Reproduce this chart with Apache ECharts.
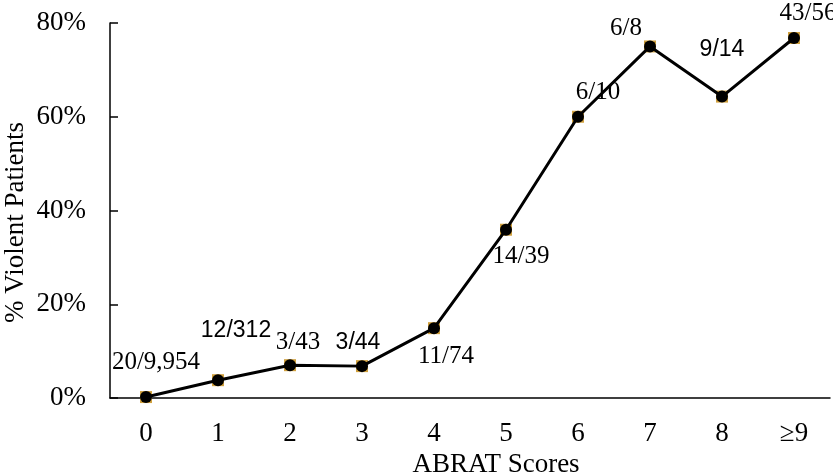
<!DOCTYPE html>
<html>
<head>
<meta charset="utf-8">
<script src="https://cdn.jsdelivr.net/npm/echarts@6/dist/echarts.min.js"></script>
<style>
  html, body { margin: 0; padding: 0; background: #fff; }
  #chart { width: 833px; height: 472px; }
</style>
</head>
<body>
<div id="chart"></div>
<script>
// ABRAT score vs share of violent patients
const categories = ['0', '1', '2', '3', '4', '5', '6', '7', '8', '≥9'];
const violentPct = [0.2, 3.8, 7.0, 6.8, 14.9, 35.9, 60.0, 75.0, 64.3, 76.8];
const pointLabels = ['20/9,954', '12/312', '3/43', '3/44', '11/74', '14/39', '6/10', '6/8', '9/14', '43/56'];
const yTicks = [0, 20, 40, 60, 80];

// label placement relative to each marker (px)
const labelOffsets = [[10, -35], [18, -50], [8, -23], [-4, -23], [12, 28], [15, 27], [20, -24], [-24, -18], [0, -47], [14, -25]];
const sansLabels = [1, 3, 8];

const serif = '"Liberation Serif", "DejaVu Serif", serif';
const sans = '"Liberation Sans", "Noto Sans", sans-serif';

const chart = echarts.init(document.getElementById('chart'));

const lineData = violentPct.map((v, i) => ({
    value: v,
    label: {
        show: true,
        position: 'inside',
        offset: labelOffsets[i],
        formatter: pointLabels[i],
        color: '#000',
        fontFamily: sansLabels.includes(i) ? sans : serif,
        fontSize: sansLabels.includes(i) ? 23 : 25
    }
}));

const option = {
    animation: false,
    grid: { left: 110, right: 3, top: 23, bottom: 74, outerBoundsMode: 'none' },
    xAxis: {
        type: 'category',
        data: categories,
        boundaryGap: true,
        name: 'ABRAT Scores',
        nameLocation: 'middle',
        nameGap: 50,
        nameTextStyle: { fontFamily: serif, fontSize: 27, color: '#000', padding: [0, 0, 0, 52] },
        axisLine: { lineStyle: { color: '#000', width: 1.5 } },
        axisTick: { inside: true, length: 8, lineStyle: { color: '#000', width: 1.5 } },
        axisLabel: { fontFamily: serif, fontSize: 27, color: '#000', margin: 22 }
    },
    yAxis: {
        type: 'value',
        min: yTicks[0],
        max: yTicks[yTicks.length - 1],
        interval: yTicks[1] - yTicks[0],
        name: '% Violent Patients',
        nameLocation: 'middle',
        nameGap: 81,
        nameRotate: 90,
        nameMoveOverlap: false,
        nameTextStyle: { fontFamily: serif, fontSize: 27, color: '#000', padding: [0, 24, 0, 0] },
        axisLine: { show: true, lineStyle: { color: '#000', width: 1.5 } },
        axisTick: { show: true, inside: true, length: 8, lineStyle: { color: '#000', width: 1.5 } },
        splitLine: { show: false },
        axisLabel: { fontFamily: serif, fontSize: 27, color: '#000', margin: 24, formatter: '{value}%' }
    },
    series: [
        {
            type: 'line',
            data: violentPct,
            symbol: 'rect',
            symbolSize: 12,
            itemStyle: { color: '#d1a13e' },
            lineStyle: { opacity: 0 },
            z: 1,
            silent: true
        },
        {
            type: 'line',
            data: lineData,
            symbol: 'circle',
            symbolSize: 12,
            itemStyle: { color: '#000' },
            lineStyle: { color: '#000', width: 3 },
            z: 2
        }
    ]
};

chart.setOption(option);
</script>
</body>
</html>
